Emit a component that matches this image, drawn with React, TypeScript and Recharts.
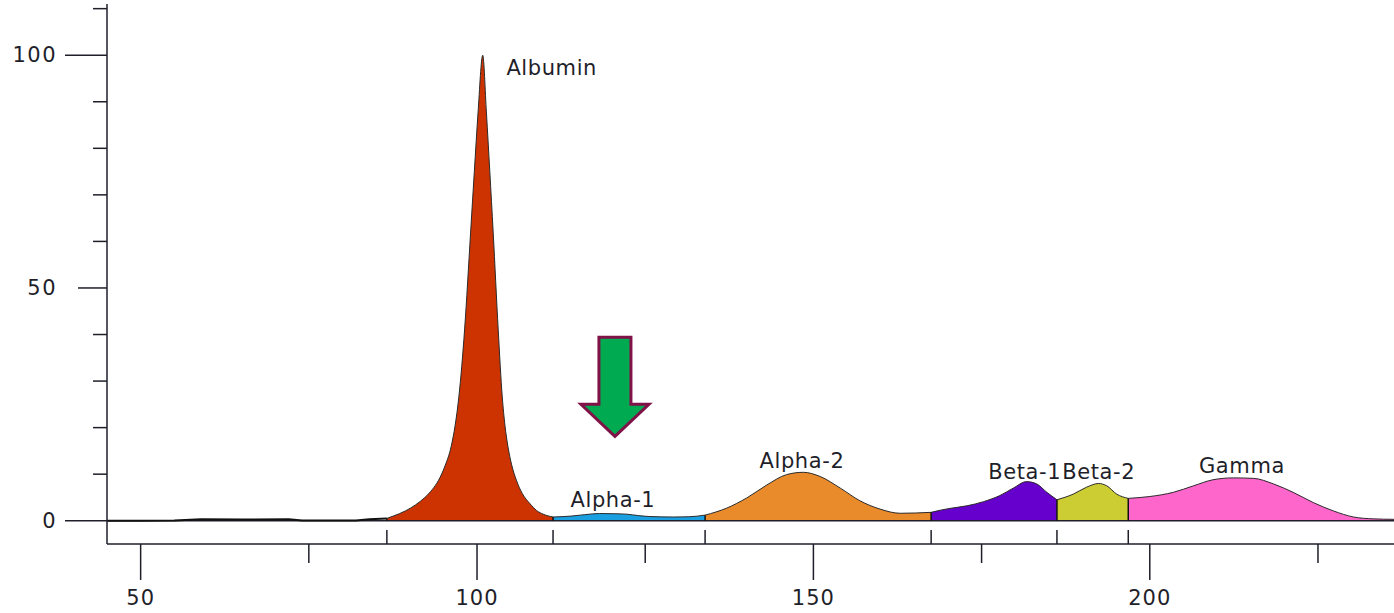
import { ComposedChart, Area, Line, XAxis, YAxis, ReferenceLine, ReferenceDot } from 'recharts';

// densitometer trace (mobility -> relative intensity)
const mobility = [
  45, 50, 55, 59, 65, 72, 74, 82, 84,
  86.6, 87.55, 89.35, 90.85, 92.25, 93.35, 94.25, 95.25, 96.15, 96.75, 97.3, 98.15, 99.05, 99.6, 100.15, 100.85,
  101.4, 101.9, 102.4, 103.15, 103.75, 104.15, 104.6, 105.15, 105.85, 106.75, 107.85, 108.85, 109.85, 111.3,
  114, 116, 118.2, 120.5, 122.3, 124, 125.7, 129.1, 131.5, 133.9,
  137.1, 140.1, 143.1, 146.0, 148.5, 151.0, 154.0, 156.9, 159.9, 162.9, 167.5,
  169, 170.3, 172.8, 175.3, 177.7, 179.7, 181.7, 183.2, 184.7, 186.2,
  188.6, 190.6, 192.4, 193.6, 195.1, 196.8,
  200, 203.5, 206.5, 209.4, 212.4, 215.4, 218.4, 221.3, 224.3, 227.3, 230.3, 233.2, 236.3,
];
const signal = [
  0, 0, 0.05, 0.3, 0.25, 0.3, 0.05, 0.05, 0.3,
  0.5, 1.0, 2.1, 3.4, 5.0, 6.7, 8.6, 11.8, 15.9, 20.5, 26.6, 41, 62, 75, 87.6, 100,
  87.6, 75, 62, 41, 26.6, 20.5, 15.9, 12.0, 8.7, 5.8, 3.7, 2.2, 1.4, 0.8,
  1.0, 1.3, 1.55, 1.5, 1.4, 1.1, 0.9, 0.8, 0.85, 1.2,
  2.7, 4.9, 7.7, 9.9, 10.4, 9.5, 7.0, 4.3, 2.5, 1.6, 1.8,
  2.3, 2.65, 3.2, 4.1, 5.4, 7.0, 8.4, 7.9, 6.1, 4.5,
  5.7, 7.2, 8.0, 7.5, 5.7, 4.8,
  5.2, 6.1, 7.5, 8.8, 9.2, 9.1, 7.9, 6.1, 3.9, 2.1, 0.8, 0.4, 0.3,
];

const fractionNames = ['Albumin', 'Alpha-1', 'Alpha-2', 'Beta-1', 'Beta-2', 'Gamma'];
const fractionStarts = [86.6, 111.3, 133.9, 167.5, 186.2, 196.8];
const fractionEnds = [111.3, 133.9, 167.5, 186.2, 196.8, 236.3];
const fractionColors = ['#CC3300', '#1A9FE0', '#E98A2B', '#6600CC', '#CCCC33', '#FF66CC'];
const labelX = [111.1, 120.2, 148.3, 181.4, 192.4, 213.7];
const labelY = [97.3, 4.4, 12.9, 10.5, 10.5, 11.7];

const xMajorTicks = [50, 100, 150, 200];
const xMinorTicks = [75, 125, 175, 225];
const yTicks = [0, 10, 20, 30, 40, 50, 60, 70, 80, 90, 100, 110];
const yLabelled = [0, 50, 100];

const arrowX = 120.5;
const arrowY = 17.7;

const INK = '#1f1f2a';
const FONT = '"DejaVu Sans", Arial, sans-serif';

const rows = mobility.map((m, i) => {
  const row: Record<string, number | null> = { m };
  row.pre = m <= fractionStarts[0] ? signal[i] : null;
  fractionNames.forEach((n, k) => {
    row[n] = m >= fractionStarts[k] && m <= fractionEnds[k] ? signal[i] : null;
  });
  return row;
});

function XTick({ x, y, payload }: any) {
  const v = payload.value;
  if (fractionStarts.includes(v)) {
    return <line x1={x} x2={x} y1={y - 14} y2={y} stroke={INK} strokeWidth={1.5} />;
  }
  const major = xMajorTicks.includes(v);
  return (
    <g>
      <line x1={x} x2={x} y1={y} y2={y + (major ? 36 : 19)} stroke={INK} strokeWidth={1.5} />
      {major && (
        <text x={x} y={y + 54} textAnchor="middle" dominantBaseline="central"
          fontFamily={FONT} fontSize={21} letterSpacing={1} fill={INK}>{v}</text>
      )}
    </g>
  );
}

function YTick({ x, y, payload }: any) {
  const v = payload.value;
  const labelled = yLabelled.includes(v);
  const len = v === 50 ? 29 : labelled ? 42 : 14;
  return (
    <g>
      <line x1={x - len} x2={x} y1={y} y2={y} stroke={INK} strokeWidth={1.5} />
      {labelled && (
        <text x={x - 50} y={y} textAnchor="end" dominantBaseline="central"
          fontFamily={FONT} fontSize={21} letterSpacing={1.5} fill={INK}>{v}</text>
      )}
    </g>
  );
}

function Arrow({ cx, cy }: any) {
  const pts = [
    [cx - 16, cy - 101], [cx + 16, cy - 101], [cx + 16, cy - 34], [cx + 34, cy - 34],
    [cx, cy - 2], [cx - 34, cy - 34], [cx - 16, cy - 34],
  ].map((p) => p.join(',')).join(' ');
  return <polygon points={pts} fill="#00AA50" stroke="#7F1246" strokeWidth={3} strokeLinejoin="miter" />;
}

export default function App() {
  return (
    <div style={{ width: 1394, height: 613, background: '#fff' }}>
      <style>{'body{margin:0}'}</style>
      <ComposedChart width={1394} height={613} data={rows} margin={{ top: 4, right: 0, bottom: 0, left: 0 }}>
        <XAxis
          type="number" dataKey="m" domain={[45, 236.3]} allowDataOverflow
          ticks={[...xMajorTicks, ...xMinorTicks, ...fractionStarts]} interval={0}
          tickSize={0} tickMargin={0} height={69}
          axisLine={{ stroke: INK, strokeWidth: 1.5 }} tick={XTick}
        />
        <YAxis
          type="number" domain={[-5, 111]} allowDataOverflow ticks={yTicks} interval={0}
          tickSize={0} tickMargin={0} width={107}
          axisLine={{ stroke: INK, strokeWidth: 1.5 }} tick={YTick}
        />
        <ReferenceLine y={0} stroke={INK} strokeWidth={1.5} />
        <Line dataKey="pre" type="linear" stroke="#111" strokeWidth={2} dot={false} activeDot={false} isAnimationActive={false} />
        {fractionNames.map((n, k) => (
          <Area
            key={n} dataKey={n} type="monotone" baseValue={0}
            fill={fractionColors[k]} fillOpacity={1} stroke="#2a2a2a" strokeWidth={1}
            dot={false} activeDot={false} isAnimationActive={false}
          />
        ))}
        {fractionStarts.map((b) => (
          <ReferenceLine key={b} segment={[{ x: b, y: 0 }, { x: b, y: signal[mobility.indexOf(b)] }]}
            stroke="#111" strokeWidth={1.5} />
        ))}
        {fractionNames.map((n, k) => (
          <ReferenceDot key={'l' + n} x={labelX[k]} y={labelY[k]} r={0}
            shape={(p: any) => (
              <text x={p.cx} y={p.cy} textAnchor="middle" dominantBaseline="central"
                fontFamily={FONT} fontSize={21} letterSpacing={0.6} fill={INK}>{n}</text>
            )}
          />
        ))}
        <ReferenceDot x={arrowX} y={arrowY} r={0} shape={Arrow} />
      </ComposedChart>
    </div>
  );
}
